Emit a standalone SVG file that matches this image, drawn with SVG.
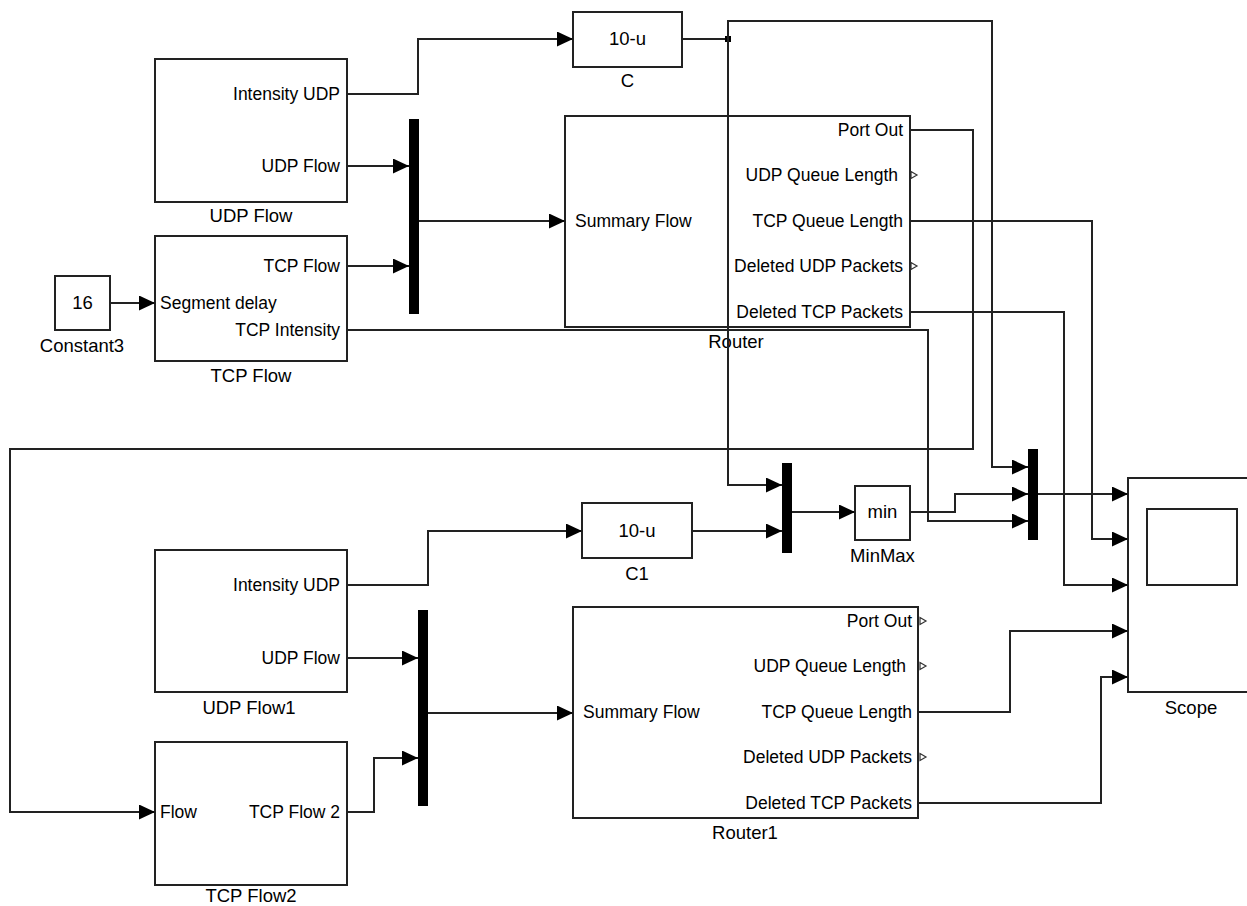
<svg xmlns="http://www.w3.org/2000/svg" width="1247" height="906" viewBox="0 0 1247 906">
<style>
.blk{fill:#fff;stroke:#222;stroke-width:2}
.mux{fill:#000}
.w{fill:none;stroke:#222;stroke-width:2}
.p{font-family:"Liberation Sans",Arial,sans-serif;font-size:17.5px;fill:#000}
.n{font-family:"Liberation Sans",Arial,sans-serif;font-size:18.5px;fill:#000;text-anchor:middle}
.r{text-anchor:end}
.tri{fill:#fff;stroke:#333;stroke-width:1.2}
</style>
<defs>
<marker id="ah" markerUnits="userSpaceOnUse" markerWidth="16" markerHeight="15" refX="16" refY="7.5" orient="auto">
<path d="M0,0 L16,7.5 L0,15 z" fill="#000"/>
</marker>
</defs>
<rect width="1247" height="906" fill="#fff"/>

<g id="udp-flow">
<rect class="blk" x="155" y="59" width="192" height="143"/>
<text class="p r" x="340" y="100">Intensity UDP</text>
<text class="p r" x="340" y="172">UDP Flow</text>
<text class="n" x="251" y="222">UDP Flow</text>
</g>

<g id="tcp-flow">
<rect class="blk" x="155" y="236" width="192" height="125"/>
<text class="p r" x="340" y="272">TCP Flow</text>
<text class="p" x="160" y="309">Segment delay</text>
<text class="p r" x="340" y="336">TCP Intensity</text>
<text class="n" x="251" y="382">TCP Flow</text>
</g>

<g id="constant3">
<rect class="blk" x="55" y="276" width="55" height="54"/>
<text class="n" x="82.5" y="309">16</text>
<text class="n" x="82" y="352">Constant3</text>
</g>

<g id="mux1"><rect class="mux" x="409" y="119" width="10" height="195"/></g>

<g id="c">
<rect class="blk" x="573" y="12" width="109" height="55"/>
<text class="n" x="627.5" y="45">10-u</text>
<text class="n" x="627.5" y="87">C</text>
</g>

<g id="router">
<rect class="blk" x="565" y="116" width="345" height="211"/>
<text class="p" x="575" y="227">Summary Flow</text>
<text class="p r" x="903" y="136">Port Out</text>
<text class="p r" x="898" y="181">UDP Queue Length</text>
<text class="p r" x="903" y="227">TCP Queue Length</text>
<text class="p r" x="903" y="272">Deleted UDP Packets</text>
<text class="p r" x="903" y="318">Deleted TCP Packets</text>
<polygon class="tri" points="911,171.5 917,175 911,178.5"/>
<polygon class="tri" points="911,262.5 917,266 911,269.5"/>
<text class="n" x="736" y="348">Router</text>
</g>

<g id="mux3"><rect class="mux" x="782" y="463" width="10" height="90"/></g>

<g id="c1">
<rect class="blk" x="582" y="503" width="110" height="55"/>
<text class="n" x="637" y="537">10-u</text>
<text class="n" x="637" y="580">C1</text>
</g>

<g id="minmax">
<rect class="blk" x="855" y="486" width="55" height="54"/>
<text class="n" x="882.5" y="518">min</text>
<text class="n" x="882.5" y="562">MinMax</text>
</g>

<g id="mux2"><rect class="mux" x="1028" y="449" width="10" height="91"/></g>

<g id="scope">
<rect class="blk" x="1128" y="478" width="130" height="214"/>
<rect class="blk" x="1147" y="509" width="90" height="76"/>
<text class="n" x="1191" y="714">Scope</text>
</g>

<g id="udp-flow1">
<rect class="blk" x="155" y="550" width="192" height="142"/>
<text class="p r" x="340" y="591">Intensity UDP</text>
<text class="p r" x="340" y="664">UDP Flow</text>
<text class="n" x="249" y="714">UDP Flow1</text>
</g>

<g id="tcp-flow2">
<rect class="blk" x="155" y="742" width="192" height="143"/>
<text class="p" x="160" y="818">Flow</text>
<text class="p r" x="340" y="818">TCP Flow 2</text>
<text class="n" x="251" y="902">TCP Flow2</text>
</g>

<g id="mux4"><rect class="mux" x="418" y="610" width="10" height="196"/></g>

<g id="router1">
<rect class="blk" x="573" y="607" width="345" height="211"/>
<text class="p" x="583" y="718">Summary Flow</text>
<text class="p r" x="912" y="627">Port Out</text>
<text class="p r" x="906" y="672">UDP Queue Length</text>
<text class="p r" x="912" y="718">TCP Queue Length</text>
<text class="p r" x="912" y="763">Deleted UDP Packets</text>
<text class="p r" x="912" y="809">Deleted TCP Packets</text>
<polygon class="tri" points="920,617.5 926,621 920,624.5"/>
<polygon class="tri" points="920,662.5 926,666 920,669.5"/>
<polygon class="tri" points="920,753.5 926,757 920,760.5"/>
<text class="n" x="745" y="839">Router1</text>
</g>

<g id="connectors">
<polyline class="w" points="347,94 418,94 418,39 573,39" marker-end="url(#ah)"/>
<polyline class="w" points="347,166 409,166" marker-end="url(#ah)"/>
<polyline class="w" points="347,266 409,266" marker-end="url(#ah)"/>
<polyline class="w" points="110,303 155,303" marker-end="url(#ah)"/>
<polyline class="w" points="419,221 565,221" marker-end="url(#ah)"/>
<polyline class="w" points="682,39 728,39"/>
<rect x="725" y="36" width="6" height="6" fill="#000"/>
<polyline class="w" points="728,39 728,21 992,21 992,467 1028,467" marker-end="url(#ah)"/>
<polyline class="w" points="728,39 728,485 782,485" marker-end="url(#ah)"/>
<polyline class="w" points="692,531 782,531" marker-end="url(#ah)"/>
<polyline class="w" points="792,512 855,512" marker-end="url(#ah)"/>
<polyline class="w" points="910,512 955,512 955,494 1028,494" marker-end="url(#ah)"/>
<polyline class="w" points="347,330 928,330 928,521 1028,521" marker-end="url(#ah)"/>
<polyline class="w" points="910,130 973,130 973,449 10,449 10,812 155,812" marker-end="url(#ah)"/>
<polyline class="w" points="910,221 1092,221 1092,539 1128,539" marker-end="url(#ah)"/>
<polyline class="w" points="910,312 1064,312 1064,585 1128,585" marker-end="url(#ah)"/>
<polyline class="w" points="1038,494 1128,494" marker-end="url(#ah)"/>
<polyline class="w" points="347,585 428,585 428,531 582,531" marker-end="url(#ah)"/>
<polyline class="w" points="347,658 418,658" marker-end="url(#ah)"/>
<polyline class="w" points="347,812 374,812 374,758 418,758" marker-end="url(#ah)"/>
<polyline class="w" points="428,713 573,713" marker-end="url(#ah)"/>
<polyline class="w" points="918,712 1010,712 1010,631 1128,631" marker-end="url(#ah)"/>
<polyline class="w" points="918,803 1101,803 1101,677 1128,677" marker-end="url(#ah)"/>
</g>
</svg>
